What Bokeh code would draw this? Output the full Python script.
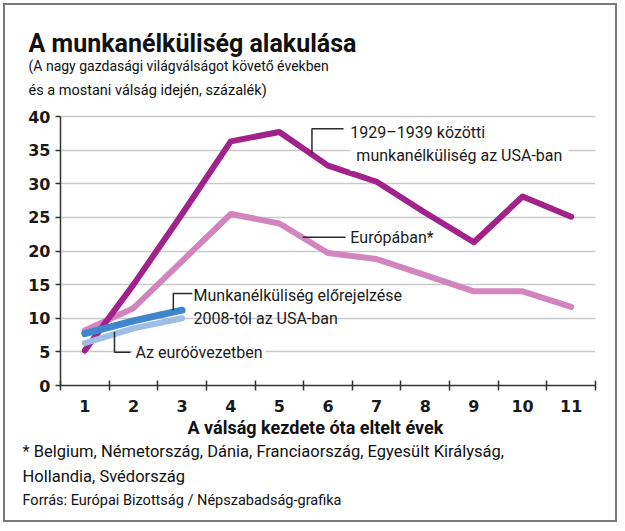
from bokeh.plotting import figure
from bokeh.models import Range1d, FixedTicker, Label, Title
from bokeh.embed import file_html
from bokeh.resources import INLINE

# ---- data ----
years = [1, 2, 3, 4, 5, 6, 7, 8, 9, 10, 11]
usa_1929 = [5.2, 15.0, 25.5, 36.3, 37.7, 32.7, 30.3, 25.7, 21.3, 28.1, 25.1]
europe_1929 = [8.2, 11.5, 18.5, 25.5, 24.1, 19.7, 18.8, 16.4, 14.0, 14.0, 11.7]
years_now = [1, 2, 3]
usa_forecast = [7.7, 9.6, 11.2]
eurozone = [6.3, 8.5, 10.0]
y_ticks = [0, 5, 10, 15, 20, 25, 30, 35, 40]
x_minor = [0.5, 1.5, 2.5, 3.5, 4.5, 5.5, 6.5, 7.5, 8.5, 9.5, 10.5, 11.5]

title = "A munkanélküliség alakulása"
subtitle1 = "(A nagy gazdasági világválságot követő években"
subtitle2 = "és a mostani válság idején, százalék)"
xlabel = "A válság kezdete óta eltelt évek"
foot1 = "* Belgium, Németország, Dánia, Franciaország, Egyesült Királyság,"
foot2 = "Hollandia, Svédország"
source = "Forrás: Európai Bizottság / Népszabadság-grafika"

C_USA = "#a0228a"
C_EU = "#d184bd"
C_FC = "#3f86cc"
C_EZ = "#9dbce6"
FONT = "Roboto"
TICKFONT = "DejaVu Sans"

p = figure(width=614, height=519, x_range=Range1d(0.5, 11.5), y_range=Range1d(0, 41.49),
           output_backend="svg", toolbar_location=None,
           min_border_left=55, min_border_right=24, min_border_top=101, min_border_bottom=139)
p.outline_line_color = None
p.background_fill_color = "white"
p.border_fill_color = "white"
p.styles = {"border": "2px solid #7a7a7a", "margin": "3px"}

# y axis
p.yaxis.ticker = FixedTicker(ticks=y_ticks)
p.yaxis.bounds = (0, 40)
p.yaxis.major_tick_out = 5
p.yaxis.major_tick_in = 0
p.yaxis.minor_tick_line_color = None
p.yaxis.axis_line_color = "#333333"
p.yaxis.axis_line_width = 1.5
p.yaxis.major_tick_line_color = "#333333"
p.yaxis.major_tick_line_width = 1.5
p.yaxis.major_label_text_font = TICKFONT
p.yaxis.major_label_text_font_style = "bold"
p.yaxis.major_label_text_font_size = "16px"
p.yaxis.major_label_text_color = "#1a1a1a"
p.yaxis.major_label_standoff = 5

# x axis
p.xaxis.ticker = FixedTicker(ticks=years, minor_ticks=x_minor)
p.xaxis.major_tick_line_color = None
p.xaxis.major_tick_out = 0
p.xaxis.major_tick_in = 0
p.xaxis.minor_tick_in = 5
p.xaxis.minor_tick_out = 5
p.xaxis.minor_tick_line_color = "#333333"
p.xaxis.minor_tick_line_width = 1.5
p.xaxis.axis_line_color = "#333333"
p.xaxis.axis_line_width = 1.5
p.xaxis.major_label_text_font = TICKFONT
p.xaxis.major_label_text_font_style = "bold"
p.xaxis.major_label_text_font_size = "16px"
p.xaxis.major_label_text_color = "#1a1a1a"
p.xaxis.major_label_standoff = 9

p.xgrid.visible = False
p.ygrid.ticker = FixedTicker(ticks=y_ticks)
p.ygrid.grid_line_color = "#c9c9c9"
p.ygrid.grid_line_width = 1.5

# series
p.line(years, europe_1929, line_color=C_EU, line_width=6, line_join="round", line_cap="round")
p.line(years, usa_1929, line_color=C_USA, line_width=6, line_join="round", line_cap="round")
p.line(years_now, eurozone, line_color=C_EZ, line_width=6, line_join="round", line_cap="round")
p.line(years_now, usa_forecast, line_color=C_FC, line_width=7, line_join="round", line_cap="round")

# leader lines (annotation anchors in data units)
LC = "#2a2a2a"
p.line([5.67, 5.67, 6.32], [34.45, 38.17, 38.17], line_color=LC, line_width=1.5)
p.line([5.48, 6.36], [22.05, 22.05], line_color=LC, line_width=1.5)
p.line([2.82, 2.82, 3.21], [11.15, 13.68, 13.68], line_color=LC, line_width=1.5)
p.line([1.61, 1.61, 1.94], [8.0, 4.95, 4.95], line_color=LC, line_width=1.5)

def lab(x, y, text, bg=None, pad=0):
    l = Label(x=x, y=y, text=text, text_font=FONT, text_font_size="16px",
              text_align="left", text_baseline="middle", text_color="#1a1a1a")
    if bg:
        l.background_fill_color = bg
        l.padding = pad
    p.add_layout(l)

# in-chart labels
lab(6.46, 37.67, "1929–1939 közötti")
lab(6.46, 34.2, "munkanélküliség az USA-ban", bg="white", pad=6)
lab(6.46, 22.05, "Európában*")
lab(3.235, 13.4, "Munkanélküliség előrejelzése")
lab(3.235, 9.96, "2008-tól az USA-ban")
lab(1.98, 4.95, "Az euróövezetben", bg="white", pad=3)

def ttl(text, place, size, bold=False, offset=0, standoff=0, valign="bottom"):
    t = Title(text=text, text_font=FONT, text_font_size=size,
              text_font_style="bold" if bold else "normal", text_color="#111111",
              align="left", offset=offset, standoff=standoff, vertical_align=valign)
    p.add_layout(t, place)

# heading block (first added = closest to the frame)
ttl(subtitle2, "above", "14.5px", offset=-32, standoff=11, valign="top")
ttl(subtitle1, "above", "14px", offset=-32, standoff=1, valign="top")
ttl(title, "above", "25px", bold=True, offset=-32, standoff=0)

# below: axis title and footnotes
ttl(xlabel, "below", "18px", bold=True, offset=127, standoff=0)
ttl(foot1, "below", "16.5px", offset=-38, standoff=5)
ttl(foot2, "below", "16.5px", offset=-38, standoff=3)
ttl(source, "below", "14.5px", offset=-38, standoff=4)

open("out.html", "w").write(file_html(p, INLINE))
